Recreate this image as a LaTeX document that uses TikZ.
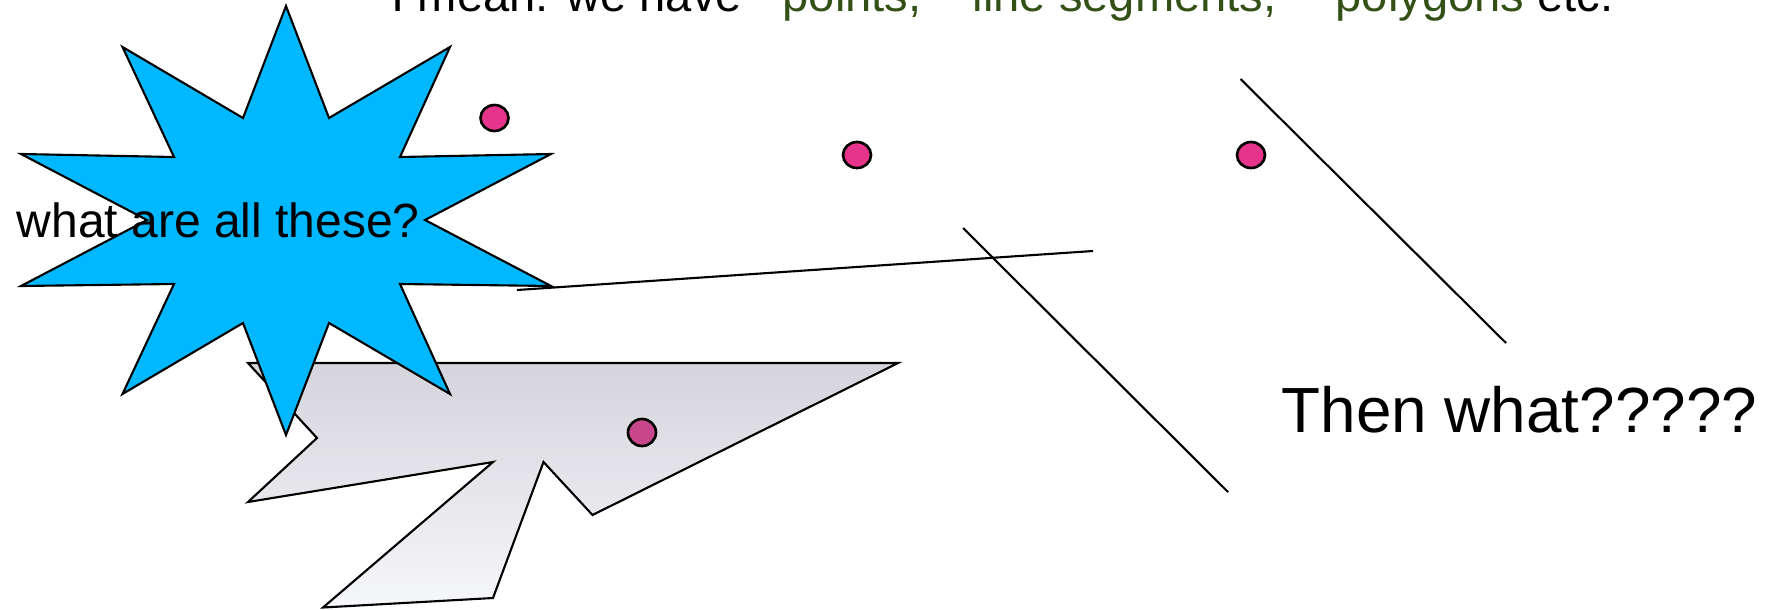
\documentclass[tikz,border=0pt]{standalone}
\usepackage{fontspec}
\setmainfont{Liberation Sans}
\usetikzlibrary{shapes.geometric}
\definecolor{starblue}{RGB}{0,184,255}
\definecolor{dotpink}{RGB}{230,52,140}
\definecolor{dotpurple}{RGB}{200,70,140}
\definecolor{txtgreen}{RGB}{51,80,22}
\definecolor{polytop}{RGB}{212,212,218}
\definecolor{polybot}{RGB}{246,247,251}
\begin{document}
\begin{tikzpicture}[x=0.01cm,y=-0.01cm,line join=miter,
  edge/.style={line width=0.6pt,draw=black},
  ptdot/.style={ellipse,draw=black,line width=0.75pt,minimum width=0.28cm,minimum height=0.26cm,inner sep=0pt},
  toptext/.style={anchor=base west,inner sep=0pt,font=\fontsize{13.4pt}{16pt}\selectfont},
  bigtext/.style={anchor=base west,inner sep=0pt,font=\fontsize{18.15pt}{22pt}\selectfont},
  midtext/.style={anchor=base west,inner sep=0pt,font=\fontsize{13.65pt}{16pt}\selectfont}]
\clip (0,0) rectangle (1770,609);
\fill[white] (0,0) rectangle (1770,609);
% polygon
\draw[edge,top color=polytop,bottom color=polybot]
  (248,363) -- (898,363) -- (592.5,515) -- (543.5,462) -- (493,598) -- (323,607.5)
  -- (493,462) -- (248,502) -- (317,438) -- cycle;
\node[ptdot,fill=dotpurple,minimum height=0.27cm] (p4) at (642,432.5) {};
% star
\draw[edge,fill=starblue]
  (286,6) -- (329,118) -- (450,47) -- (400,157) -- (551,154) -- (425,220)
  -- (551,286) -- (400,284) -- (450,394) -- (329,323) -- (286,435) -- (243,323)
  -- (122.5,394) -- (174,284) -- (21,286) -- (147,220) -- (21,154) -- (174,157)
  -- (122.5,47) -- (243,118) -- cycle;
% line segments
\coordinate (a1) at (517,290); \coordinate (a2) at (1093,251);
\coordinate (b1) at (963,228); \coordinate (b2) at (1228,492);
\coordinate (c1) at (1240.5,79); \coordinate (c2) at (1506,343);
\draw[edge] (a1) -- (a2);
\draw[edge] (b1) -- (b2);
\draw[edge] (c1) -- (c2);
% points
\node[ptdot,fill=dotpink] (p1) at (494.5,118) {};
\node[ptdot,fill=dotpink] (p2) at (857,155) {};
\node[ptdot,fill=dotpink] (p3) at (1251,155) {};
% texts
\node[toptext] (t1) at (391,11.7) {I mean: we have};
\node[toptext,text=txtgreen] (t2) at (782,11.7) {points,};
\node[toptext,text=txtgreen] (t3) at (972,11.7) {line segments,};
\node[toptext] (t4) at (1335,11.7) {\textcolor{txtgreen}{polygons} etc.};
\node[midtext] (q1) at (16,237) {what are all these?};
\node[bigtext] (q2) at (1281,432.7) {Then what?????};
\end{tikzpicture}
\end{document}
